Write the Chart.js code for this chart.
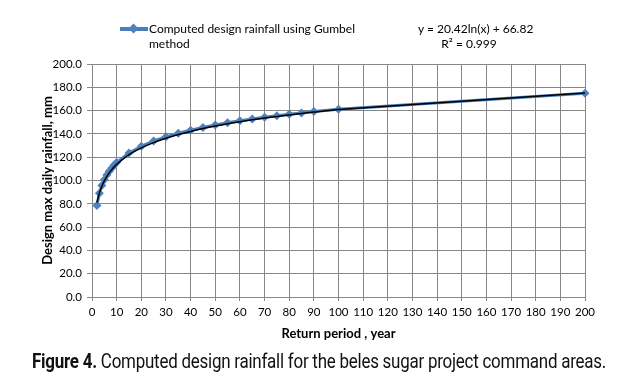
<!DOCTYPE html>
<html>
<head>
<meta charset="utf-8">
<script src="https://cdn.jsdelivr.net/npm/chart.js@4"></script>
<style>
  html, body { margin: 0; padding: 0; background: #fff; }
  #wrap { position: relative; width: 630px; height: 390px; overflow: hidden; }
  #c { position: absolute; left: 0; top: 0; }
  .txt { position: absolute; font-family: Lato, "Liberation Sans", sans-serif; color: #000; white-space: nowrap; }
  #legText { left: 149px; top: 21px; font-size: 12px; line-height: 15px; }
  #legSym { position: absolute; left: 120px; top: 27px; width: 28px; height: 4px; background: #4a7ebb; }
  #legDia { position: absolute; left: 130px; top: 25px; width: 7px; height: 7px; background: #4f81bd; transform: rotate(45deg); }
  #eq { left: 418px; top: 21px; width: 102px; text-align: center; font-size: 12px; line-height: 15px; }
  #cap { left: 32px; top: 349px; font-family: Roboto, sans-serif; font-size: 21px; transform-origin: 0 0; letter-spacing: -0.3px; color: #111; }
</style>
</head>
<body>
<div id="wrap">
  <canvas id="c" width="630" height="390"></canvas>
  <div id="legSym"></div><div id="legDia"></div>
  <div class="txt" id="legText">Computed design rainfall using Gumbel<br>method</div>
  <div class="txt" id="eq">y = 20.42ln(x) + 66.82<br>R² = 0.999</div>
  <div class="txt" id="cap"><b>Figure 4.</b> Computed design rainfall for the beles sugar project command areas.</div>
</div>
<script>
// Return periods (years)
const returnPeriods = [2, 3, 4, 5, 6, 7, 8, 9, 10, 15, 20, 25, 30, 35, 40, 45, 50, 55, 60, 65, 70, 75, 80, 85, 90, 100, 200];
// Computed design rainfall (mm)
const designRainfall = [78.6, 89.1, 95.8, 100.7, 104.7, 107.9, 110.7, 113.2, 115.4, 123.6, 129.4, 133.9, 137.5, 140.5, 143.2, 145.5, 147.6, 149.5, 151.2, 152.8, 154.2, 155.6, 156.8, 158.0, 159.2, 161.2, 174.8];
// Logarithmic trendline coefficients shown on the chart: y = a ln(x) + b
const trendCoeffs = [20.42, 66.82];
const xTicks = [0, 200, 10];
const yTicks = [0, 200, 20];

const seriesData = returnPeriods.map((x, i) => ({ x: x, y: designRainfall[i] }));
const trendData = returnPeriods.map(x => ({ x: x, y: trendCoeffs[0] * Math.log(x) + trendCoeffs[1] }));

// fit caption width
const cap = document.getElementById('cap');
const w = cap.getBoundingClientRect().width;
cap.style.transform = 'scaleX(' + (574 / w) + ')';

const gridColor = '#878787';
const tickFont = { family: 'Lato, "Liberation Sans", sans-serif', size: 11.5 };
const titleFont = { family: 'Lato, "Liberation Sans", sans-serif', size: 13, weight: 'bold' };

new Chart(document.getElementById('c'), {
  type: 'scatter',
  data: {
    datasets: [
      {
        label: 'Computed design rainfall using Gumbel method',
        data: seriesData,
        showLine: true,
        borderColor: '#4a7ebb',
        backgroundColor: '#4f81bd',
        borderWidth: 3,
        pointStyle: 'rectRot',
        pointRadius: 4.5,
        pointHoverRadius: 4.5,
        pointBorderWidth: 0,
        clip: false,
        order: 2
      },
      {
        label: 'Trend',
        data: trendData,
        showLine: true,
        borderColor: '#000',
        borderWidth: 1.5,
        pointRadius: 0,
        tension: 0.25,
        clip: false,
        order: 1
      }
    ]
  },
  options: {
    responsive: false,
    animation: false,
    layout: { padding: { left: 36, right: 45, top: 64, bottom: 48 } },
    plugins: { legend: { display: false }, tooltip: { enabled: false } },
    scales: {
      x: {
        type: 'linear',
        min: xTicks[0], max: xTicks[1],
        ticks: { stepSize: xTicks[2], color: '#000', font: tickFont, padding: 4, maxRotation: 0, autoSkip: false },
        grid: { color: gridColor, lineWidth: 1, tickLength: 4, tickColor: gridColor },
        border: { color: gridColor, width: 1 },
        title: { display: true, text: 'Return period , year', color: '#000', font: titleFont, padding: { top: 1, bottom: 0 } },
        afterFit: s => { s.height = 45; }
      },
      y: {
        type: 'linear',
        min: yTicks[0], max: yTicks[1],
        ticks: { stepSize: yTicks[2], color: '#000', font: tickFont, padding: 5, callback: v => Number(v).toFixed(1) },
        grid: { color: gridColor, lineWidth: 1, tickLength: 5, tickColor: gridColor },
        border: { color: gridColor, width: 1 },
        title: { display: true, text: 'Design max daily rainfall, mm', color: '#000', font: titleFont, padding: { top: 4, bottom: 0 } },
        afterFit: s => { s.width = 56; }
      }
    }
  }
});
</script>
</body>
</html>
